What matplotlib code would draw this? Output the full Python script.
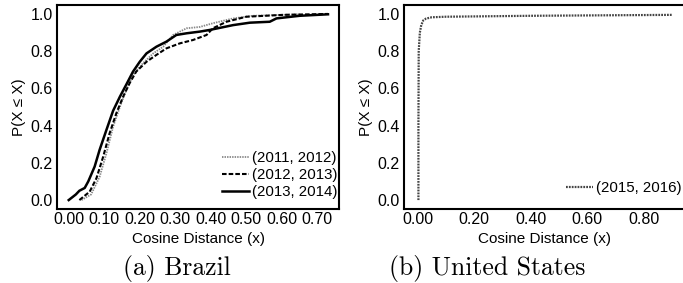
import numpy as np
import matplotlib
matplotlib.use('Agg')
import matplotlib.pyplot as plt

plt.rcParams['font.family'] = ['Liberation Sans', 'DejaVu Sans']

# Brazil: CDF of cosine distance
br_2011_x = [0.036, 0.063, 0.087, 0.106, 0.125, 0.144, 0.162, 0.181, 0.209, 0.238,
             0.266, 0.294, 0.332, 0.369, 0.406, 0.463, 0.519, 0.65]
br_2011_y = [0.0, 0.03, 0.125, 0.25, 0.394, 0.50, 0.59, 0.672, 0.735, 0.788,
             0.824, 0.887, 0.923, 0.93, 0.95, 0.976, 0.99, 0.998]

br_2012_x = [0.03, 0.059, 0.078, 0.097, 0.115, 0.134, 0.153, 0.172, 0.19, 0.219,
             0.247, 0.275, 0.313, 0.35, 0.388, 0.406, 0.444, 0.5, 0.604, 0.73]
br_2012_y = [0.0, 0.045, 0.117, 0.233, 0.358, 0.466, 0.555, 0.63, 0.69, 0.743,
             0.78, 0.815, 0.842, 0.86, 0.887, 0.923, 0.958, 0.985, 0.995, 1.0]

br_2013_x = [0.0, 0.02, 0.03, 0.045, 0.055, 0.073, 0.087, 0.106, 0.125, 0.144,
             0.162, 0.181, 0.2, 0.219, 0.247, 0.275, 0.303, 0.332, 0.369, 0.397,
             0.463, 0.51, 0.566, 0.585, 0.65, 0.73]
br_2013_y = [0.0, 0.03, 0.05, 0.065, 0.10, 0.18, 0.27, 0.376, 0.48, 0.555,
             0.62, 0.69, 0.743, 0.788, 0.824, 0.851, 0.887, 0.896, 0.905, 0.914,
             0.94, 0.953, 0.958, 0.976, 0.99, 0.998]

# United States
us_2015_x = [0.003, 0.003, 0.004, 0.008, 0.013, 0.02, 0.03, 0.05, 0.1, 0.4, 0.9]
us_2015_y = [0.0, 0.4, 0.8, 0.9, 0.94, 0.965, 0.975, 0.982, 0.985, 0.99, 0.995]

fig = plt.figure(figsize=(6.83, 2.83), dpi=100)
ax1 = fig.add_axes([57 / 683, 74 / 283, 282 / 683, 204 / 283])
ax2 = fig.add_axes([404 / 683, 74 / 283, 281 / 683, 204 / 283])

ax1.plot(br_2011_x, br_2011_y, linestyle=(0, (0.8, 0.6)), color='#888888', lw=1.3, label='(2011, 2012)')
ax1.plot(br_2012_x, br_2012_y, linestyle=(0, (2.2, 1.0)), color='black', lw=1.5, label='(2012, 2013)')
ax1.plot(br_2013_x, br_2013_y, linestyle='-', color='black', lw=1.8, label='(2013, 2014)')
ax1.set_xlim(-0.033, 0.761)
ax1.set_xticks(np.arange(0, 0.71, 0.1))
ax1.set_xticklabels(['%.2f' % v for v in np.arange(0, 0.71, 0.1)])

ax2.plot(us_2015_x, us_2015_y, linestyle=(0, (0.8, 0.5)), color='#444444', lw=1.6, label='(2015, 2016)')
ax2.set_xlim(-0.048, 0.945)
ax2.set_xticks([0, 0.2, 0.4, 0.6, 0.8])
ax2.set_xticklabels(['0.00', '0.20', '0.40', '0.60', '0.80'])

for ax in (ax1, ax2):
    ax.set_ylim(-0.048, 1.048)
    ax.set_yticks([0, 0.2, 0.4, 0.6, 0.8, 1.0])
    ax.set_yticklabels(['0.0', '0.2', '0.4', '0.6', '0.8', '1.0'])
    ax.tick_params(length=0, labelsize=11.5, colors='black')
    ax.tick_params(axis='y', pad=3)
    ax.tick_params(axis='x', pad=2)
    for s in ax.spines.values():
        s.set_linewidth(1.5)
        s.set_color('black')
    ax.set_xlabel('Cosine Distance (x)', fontsize=11, labelpad=4)
    ax.set_ylabel('P(X ≤ X)', fontsize=11, labelpad=3)

ax1.legend(loc='lower right', bbox_to_anchor=(337 / 683, 84 / 283),
           bbox_transform=fig.transFigure, frameon=False, fontsize=10.8,
           handlelength=1.8, handletextpad=0.2, labelspacing=0.2,
           borderaxespad=0, borderpad=0)
ax2.legend(loc='lower left', bbox_to_anchor=(566 / 683, 88 / 283),
           bbox_transform=fig.transFigure, frameon=False, fontsize=10.8,
           handlelength=1.8, handletextpad=0.2, borderaxespad=0, borderpad=0)

fig.text(177 / 683, 15 / 283, '(a) Brazil', ha='center', va='center',
         fontsize=18.5, family='cmr10')
fig.text(487 / 683, 15 / 283, '(b) United States', ha='center', va='center',
         fontsize=18.5, family='cmr10')

fig.savefig('out.png', dpi=100)
